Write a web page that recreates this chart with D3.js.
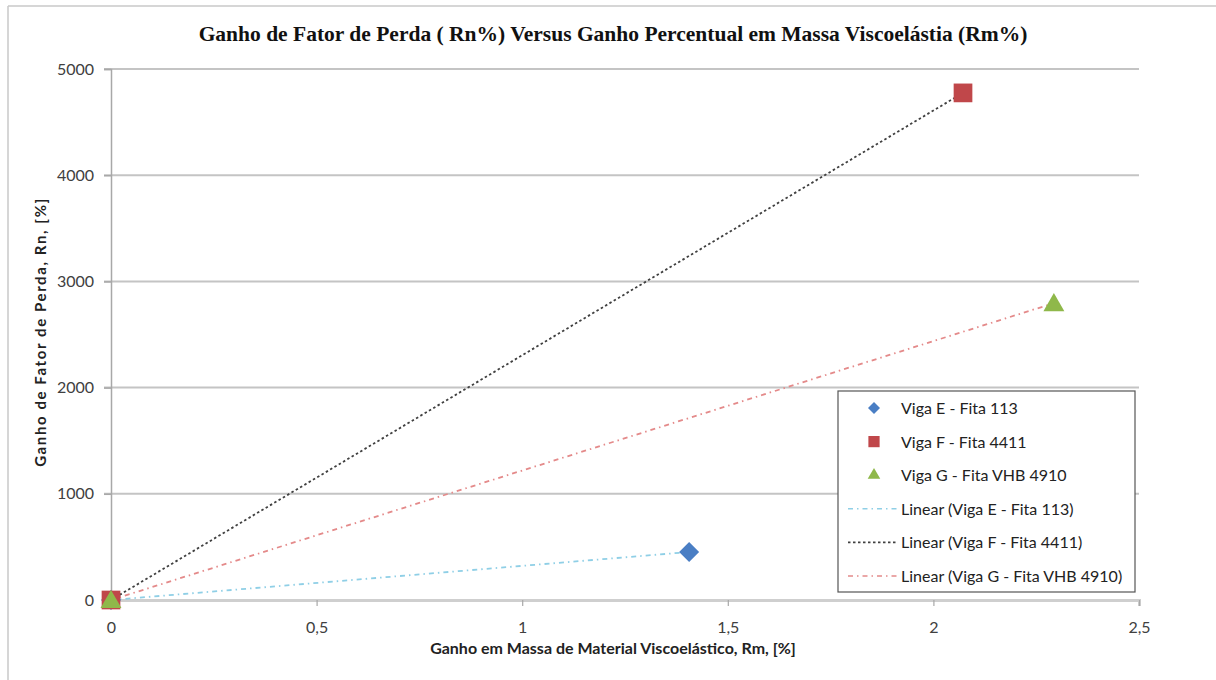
<!DOCTYPE html>
<html>
<head>
<meta charset="utf-8">
<script src="https://cdn.jsdelivr.net/npm/d3@7"></script>
<style>
  body { margin: 0; background: #fff; }
  svg { display: block; }
</style>
</head>
<body>
<script>
// series: [Rm %, Rn %] points
let seriesNames = ["Viga E - Fita 113", "Viga F - Fita 4411", "Viga G - Fita VHB 4910"];
let vigaE = [[0, 0], [1.406, 452]];
let vigaF = [[0, 0], [2.072, 4775]];
let vigaG = [[0, 0], [2.293, 2795]];

let xTicks = [0, 0.5, 1, 1.5, 2, 2.5];
let yTicks = [0, 1000, 2000, 3000, 4000, 5000];

let width = 1216, height = 680;
let margin = {left: 111, right: 77, top: 69, bottom: 80};

let svg = d3.select("body").append("svg")
    .attr("width", width)
    .attr("height", height);

// outer frame (only top and left show in the shot)
svg.append("line").attr("x1", 8).attr("x2", 8).attr("y1", 6).attr("y2", height)
    .style("stroke", "#c8c8c8").style("stroke-width", 1.5);
svg.append("line").attr("x1", 8).attr("x2", width).attr("y1", 6).attr("y2", 6)
    .style("stroke", "#c8c8c8").style("stroke-width", 1.5);

let x = d3.scaleLinear().domain([0, 2.5]).range([margin.left, width - margin.right]);
let y = d3.scaleLinear().domain([0, 5000]).range([height - margin.bottom, margin.top]);

let fmt = (d) => String(d).replace(".", ",");

// gridlines
svg.append("g").selectAll("line")
    .data(yTicks.filter(d => d > 0))
    .enter().append("line")
        .attr("x1", x(0) - 7).attr("x2", x(2.5))
        .attr("y1", d => y(d)).attr("y2", d => y(d))
        .style("stroke", "#c4c4c4").style("stroke-width", 2);

// y axis
let yAxis = svg.append("g")
    .attr("transform", `translate(${x(0)},0)`)
    .call(d3.axisLeft(y).tickValues(yTicks).tickSize(7).tickPadding(10).tickFormat(fmt));
yAxis.select(".domain").style("stroke", "#a8a8a8").style("stroke-width", 1.5);
yAxis.selectAll(".tick line").style("stroke", "#a8a8a8").style("stroke-width", 1.5);
yAxis.selectAll("text").style("font-family", "Lato").style("font-size", "16px").style("fill", "#404040");

// x axis
let xAxis = svg.append("g")
    .attr("transform", `translate(0,${y(0)})`)
    .call(d3.axisBottom(x).tickValues(xTicks).tickSize(6).tickPadding(16).tickFormat(fmt));
xAxis.select(".domain").style("stroke", "#cfcfcf").style("stroke-width", 3);
xAxis.selectAll(".tick line").style("stroke", "#a8a8a8").style("stroke-width", 1.2);
xAxis.selectAll("text").style("font-family", "Lato").style("font-size", "16px").style("fill", "#404040");

// trend lines (linear through the points)
let trendStyles = [
    {data: vigaE, color: "#8fcfe6", dash: "5,4,1.5,4", w: 1.8},
    {data: vigaF, color: "#404040", dash: "2.5,2.5", w: 1.8},
    {data: vigaG, color: "#e48a8a", dash: "5,4,1.5,4", w: 1.8}
];
let line = d3.line().x(d => x(d[0])).y(d => y(d[1]));
svg.append("g").selectAll("path")
    .data(trendStyles)
    .enter().append("path")
        .attr("d", d => line(d.data))
        .style("fill", "none")
        .style("stroke", d => d.color)
        .style("stroke-width", d => d.w)
        .style("stroke-dasharray", d => d.dash);

// markers (diamond = square turned 45 degrees)
let markerStyles = [
    {data: vigaE, color: "#4a7ec4", type: d3.symbolSquare, size: 200, rot: 45, dy: 0},
    {data: vigaF, color: "#c0474a", type: d3.symbolSquare, size: 350, rot: 0, dy: 0},
    {data: vigaG, color: "#8fb84a", type: d3.symbolTriangle, size: 190, rot: 0, dy: 2}
];
markerStyles.forEach((m) => {
    svg.append("g").selectAll("path")
        .data(m.data)
        .enter().append("path")
            .attr("transform", d => `translate(${x(d[0])},${y(d[1]) + m.dy}) rotate(${m.rot})`)
            .attr("d", d3.symbol().type(m.type).size(m.size))
            .style("fill", m.color);
});

// title
svg.append("text")
    .text("Ganho de Fator de Perda ( Rn%) Versus Ganho Percentual em Massa Viscoelástia (Rm%)")
    .attr("x", 613).attr("y", 41)
    .attr("text-anchor", "middle")
    .style("font-family", "Liberation Serif")
    .style("font-weight", "bold")
    .style("font-size", "21.5px")
    .style("fill", "#111");

// axis titles
svg.append("text")
    .text("Ganho em Massa de Material Viscoelástico, Rm, [%]")
    .attr("x", 613).attr("y", 654)
    .attr("text-anchor", "middle")
    .style("font-family", "Lato").style("font-weight", "bold")
    .style("font-size", "16px").style("fill", "#222");

svg.append("text")
    .text("Ganho de Fator de Perda, Rn, [%]")
    .attr("transform", "translate(46,332) rotate(-90)")
    .attr("text-anchor", "middle")
    .style("font-family", "Lato").style("font-weight", "bold")
    .style("letter-spacing", "1.6px")
    .style("font-size", "15px").style("fill", "#222");

// legend
let legend = svg.append("g").attr("transform", "translate(838,391)");
legend.append("rect")
    .attr("width", 297).attr("height", 201)
    .style("fill", "#fff").style("stroke", "#555").style("stroke-width", 1.2);

let legendItems = [
    {label: seriesNames[0], kind: "marker", m: markerStyles[0]},
    {label: seriesNames[1], kind: "marker", m: markerStyles[1]},
    {label: seriesNames[2], kind: "marker", m: markerStyles[2]},
    {label: "Linear (" + seriesNames[0] + ")", kind: "line", t: trendStyles[0]},
    {label: "Linear (" + seriesNames[1] + ")", kind: "line", t: trendStyles[1]},
    {label: "Linear (" + seriesNames[2] + ")", kind: "line", t: trendStyles[2]}
];
let rows = legend.selectAll("g.row")
    .data(legendItems)
    .enter().append("g")
        .attr("class", "row")
        .attr("transform", (d, i) => `translate(0,${17 + i * 33.6})`);

rows.filter(d => d.kind === "marker").append("path")
    .attr("transform", d => `translate(36,0) rotate(${d.m.rot})`)
    .attr("d", d => d3.symbol().type(d.m.type).size(d.m.size * 0.36)())
    .style("fill", d => d.m.color);

rows.filter(d => d.kind === "line").append("line")
    .attr("x1", 10).attr("x2", 60).attr("y1", 0).attr("y2", 0)
    .style("stroke", d => d.t.color)
    .style("stroke-width", 1.6)
    .style("stroke-dasharray", d => d.t.dash);

rows.append("text")
    .text(d => d.label)
    .attr("x", 63).attr("y", 6)
    .style("font-family", "Lato").style("font-size", "16px").style("fill", "#222");
</script>
</body>
</html>
